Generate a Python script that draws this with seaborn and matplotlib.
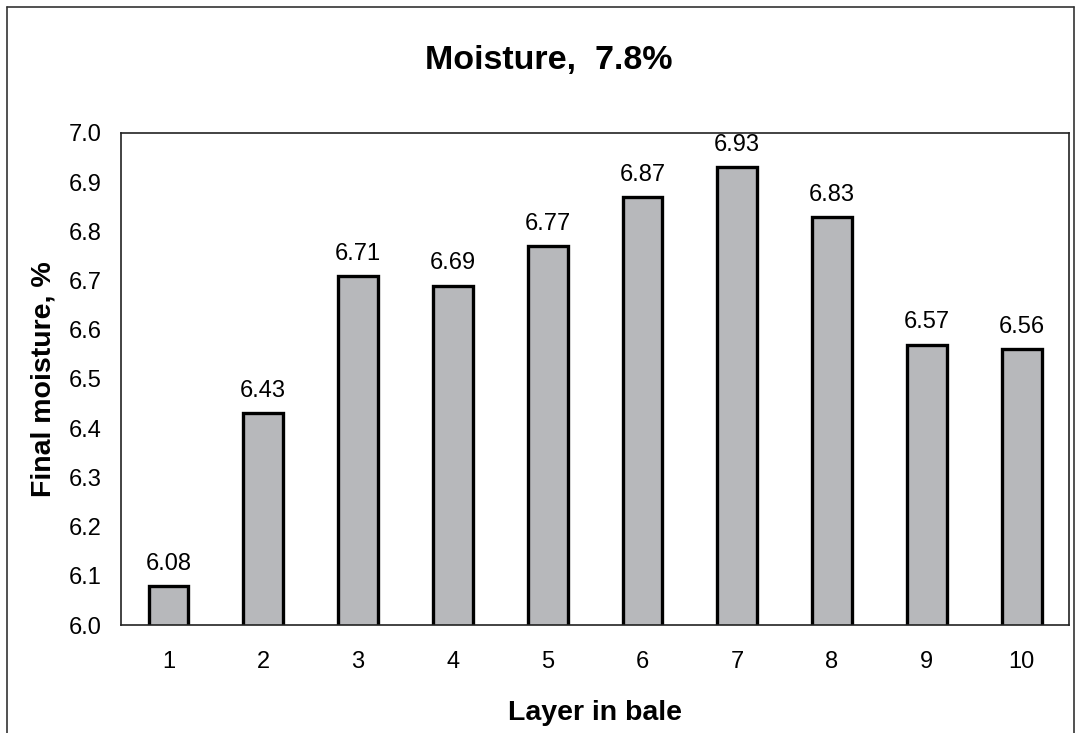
import matplotlib
matplotlib.use("Agg")
import matplotlib.pyplot as plt
from matplotlib.lines import Line2D
import seaborn as sns
import pandas as pd

# Data
layers = ["1", "2", "3", "4", "5", "6", "7", "8", "9", "10"]
moisture = [6.08, 6.43, 6.71, 6.69, 6.77, 6.87, 6.93, 6.83, 6.57, 6.56]
y_ticks = [6.0, 6.1, 6.2, 6.3, 6.4, 6.5, 6.6, 6.7, 6.8, 6.9, 7.0]

df = pd.DataFrame({"layer": layers, "moisture": moisture})

sns.set_style("white")
plt.rcParams["font.family"] = ["Liberation Sans", "DejaVu Sans"]
plt.rcParams["text.color"] = "black"
plt.rcParams["axes.labelcolor"] = "black"
plt.rcParams["xtick.color"] = "black"
plt.rcParams["ytick.color"] = "black"

fig = plt.figure(figsize=(10.76, 7.33), dpi=100)
ax = fig.add_axes([0.1125, 0.1473, 0.881, 0.6713])

sns.barplot(data=df, x="layer", y="moisture", color="#b7b8bb", width=0.42,
            edgecolor="black", linewidth=2.4, saturation=1, ax=ax)

ax.set_ylim(6.0, 7.0)
ax.set_yticks(y_ticks)
ax.set_yticklabels([f"{v:.1f}" for v in y_ticks])
ax.set_xlim(-0.5, len(layers) - 0.5)

# value labels
for i, v in enumerate(moisture):
    ax.annotate(f"{v:.2f}", (i, v), xytext=(0, 8), textcoords="offset points",
                ha="center", va="bottom", fontsize=17)

# ticks like the original: inward, minor x ticks between categories
ax.tick_params(axis="y", direction="in", length=4, width=1, labelsize=17, pad=14)
ax.tick_params(axis="x", which="major", length=0, labelsize=17, pad=19)
ax.set_xticks([i + 0.5 for i in range(len(layers) - 1)], minor=True)
ax.tick_params(axis="x", which="minor", direction="in", length=4, width=1)

for s in ax.spines.values():
    s.set_visible(True)
    s.set_color("#222222")
    s.set_linewidth(1.2)

ax.set_xlabel("Layer in bale", fontsize=20.5, fontweight="bold", labelpad=19)
ax.set_ylabel("Final moisture, %", fontsize=20.5, fontweight="bold", labelpad=9)
fig.suptitle("Moisture,  7.8%", x=0.51, y=0.938, fontsize=24.5, fontweight="bold")

# outer frame of the figure
fx0, fy1, fx1 = 7 / 1076, 1 - 7 / 733, 1 - 2 / 1076
fig.add_artist(Line2D([fx0, fx0], [0, fy1], color="#333333", lw=1.2, transform=fig.transFigure))
fig.add_artist(Line2D([fx0, fx1], [fy1, fy1], color="#333333", lw=1.2, transform=fig.transFigure))
fig.add_artist(Line2D([fx1, fx1], [0, fy1], color="#333333", lw=1.2, transform=fig.transFigure))

fig.savefig("out.png", dpi=100)
